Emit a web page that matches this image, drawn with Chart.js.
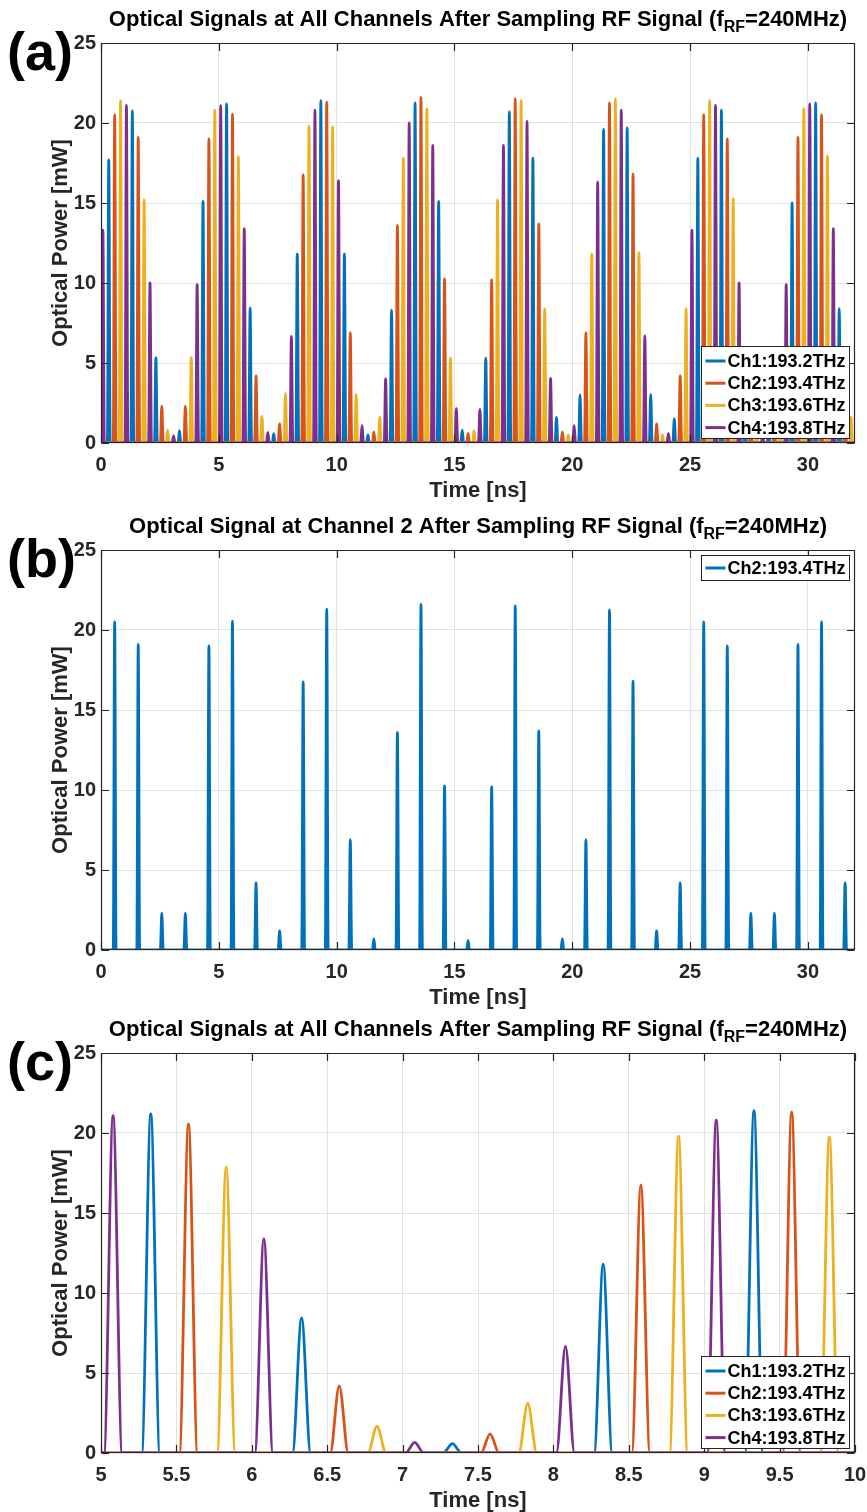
<!DOCTYPE html>
<html><head><meta charset="utf-8">
<script src="https://cdn.jsdelivr.net/npm/chart.js@4.4.1/dist/chart.umd.min.js"></script>
<style>
html,body{margin:0;padding:0;background:#fff;width:867px;height:1512px;overflow:hidden}
.panel{position:absolute;left:0;width:867px}
canvas{display:block}
</style></head><body>
<div class="panel" style="top:0px"><canvas id="ca" width="867" height="505"></canvas></div>
<div class="panel" style="top:505px"><canvas id="cb" width="867" height="505"></canvas></div>
<div class="panel" style="top:1010px"><canvas id="cc" width="867" height="502"></canvas></div>
<script>
// ---- data (pulse centre times in ns, peak optical power in mW) ----
const ch1Times=[0.33,1.33,2.33,3.33,4.33,5.33,6.33,7.33,8.33,9.33,10.33,11.33,12.33,13.33,14.33,15.33,16.33,17.33,18.33,19.33,20.33,21.33,22.33,23.33,24.33,25.33,26.33,27.33,28.33,29.33,30.33,31.33];
const ch2Times=[0.58,1.58,2.58,3.58,4.58,5.58,6.58,7.58,8.58,9.58,10.58,11.58,12.58,13.58,14.58,15.58,16.58,17.58,18.58,19.58,20.58,21.58,22.58,23.58,24.58,25.58,26.58,27.58,28.58,29.58,30.58,31.58];
const ch3Times=[0.83,1.83,2.83,3.83,4.83,5.83,6.83,7.83,8.83,9.83,10.83,11.83,12.83,13.83,14.83,15.83,16.83,17.83,18.83,19.83,20.83,21.83,22.83,23.83,24.83,25.83,26.83,27.83,28.83,29.83,30.83,31.83];
const ch4Times=[0.08,1.08,2.08,3.08,4.08,5.08,6.08,7.08,8.08,9.08,10.08,11.08,12.08,13.08,14.08,15.08,16.08,17.08,18.08,19.08,20.08,21.08,22.08,23.08,24.08,25.08,26.08,27.08,28.08,29.08,30.08,31.08];

const ch1Power=[17.7,20.75,5.34,0.77,15.1,21.2,8.45,0.58,11.8,21.4,11.8,0.5,8.3,21.25,15.1,0.8,5.3,20.7,17.8,1.6,3.0,19.6,19.7,3.04,1.5,17.8,20.8,5.3,0.8,15.0,21.25,8.4];
const ch2Power=[20.5,19.1,2.3,2.3,19.0,20.56,4.2,1.2,16.75,21.3,6.9,0.7,13.6,21.6,10.25,0.6,10.2,21.5,13.7,0.7,6.9,21.25,16.8,1.2,4.2,20.5,19.0,2.3,2.3,19.1,20.5,4.2];
const ch3Power=[21.4,15.2,0.8,5.34,20.8,17.9,1.67,3.1,19.8,19.75,3.04,1.6,17.8,20.9,5.3,0.77,15.2,21.4,8.4,0.5,11.8,21.5,11.9,0.5,8.4,21.4,15.25,0.8,5.3,20.9,17.95,1.6];
const ch4Power=[13.3,21.1,10.0,0.44,9.9,21.08,13.4,0.67,6.67,20.8,16.4,1.1,4.0,20.0,18.6,2.16,2.1,18.6,20.1,4.04,1.1,16.3,20.8,6.7,0.6,13.3,21.1,10.0,0.45,9.9,21.2,13.4];

const channelNames=['Ch1:193.2THz','Ch2:193.4THz','Ch3:193.6THz','Ch4:193.8THz'];
const xTicksFull=[0,5,10,15,20,25,30];
const xTicksZoom=[5,5.5,6,6.5,7,7.5,8,8.5,9,9.5,10];
const yTicks=[0,5,10,15,20,25];
const titleAll=['Optical Signals at All Channels After Sampling RF Signal (f','RF','=240MHz)'];
const titleCh2=['Optical Signal at Channel 2 After Sampling RF Signal (f','RF','=240MHz)'];
const xLabel='Time [ns]';
const yLabel='Optical Power [mW]';

// ---- styling ----
const COLORS=['#0072BD','#D95319','#EDB120','#7E2F8E'];
const FONT='"Liberation Sans", Arial, Helvetica, sans-serif';
const PULSE_HALF=0.06; // half base width of each optical pulse (ns)

function pulseTrain(times, peaks){
  const pts=[{x:-1,y:0}];
  times.forEach((t,i)=>{
    pts.push({x:t-PULSE_HALF,y:0});
    pts.push({x:t,y:peaks[i]});
    pts.push({x:t+PULSE_HALF,y:0});
  });
  pts.push({x:40,y:0});
  return pts;
}

function ds(label, times, peaks, color, order){
  return {label, data:pulseTrain(times,peaks), borderColor:color, backgroundColor:color,
    borderWidth:2.8, pointRadius:0, cubicInterpolationMode:'monotone', fill:false, order};
}

const matlabPlugin={
  id:'matlab',
  afterDraw(chart, args, o){
    const ctx=chart.ctx; const a=chart.chartArea;
    const L=Math.round(a.left)+0.5, R=Math.round(a.right)-0.5, T=Math.round(a.top)+0.5, B=Math.round(a.bottom)-0.5;
    const xs=chart.scales.x, ys=chart.scales.y;
    ctx.save();
    // frame
    ctx.strokeStyle='#262626'; ctx.lineWidth=1.2;
    ctx.beginPath(); ctx.rect(L,T,R-L,B-T); ctx.stroke();
    // inward ticks
    ctx.beginPath();
    o.xTicks.forEach(v=>{const p=Math.round(xs.getPixelForValue(v))+0.5; ctx.moveTo(p,B); ctx.lineTo(p,B-7.5); ctx.moveTo(p,T); ctx.lineTo(p,T+7.5);});
    yTicks.forEach(v=>{const p=Math.round(ys.getPixelForValue(v))+0.5; ctx.moveTo(L,p); ctx.lineTo(L+7.5,p); ctx.moveTo(R,p); ctx.lineTo(R-7.5,p);});
    ctx.stroke();
    // title with subscript
    const cx=(a.left+a.right)/2;
    ctx.fillStyle='#000'; ctx.textBaseline='alphabetic'; ctx.textAlign='left';
    const big='bold 22px '+FONT, small='bold 16px '+FONT;
    ctx.font=big; const w1=ctx.measureText(o.title[0]).width, w3=ctx.measureText(o.title[2]).width;
    ctx.font=small; const w2=ctx.measureText(o.title[1]).width;
    let x0=cx-(w1+w2+w3)/2; const by=a.top-17;
    ctx.font=big; ctx.fillText(o.title[0],x0,by);
    ctx.font=small; ctx.fillText(o.title[1],x0+w1,by+6);
    ctx.font=big; ctx.fillText(o.title[2],x0+w1+w2,by);
    // axis labels
    ctx.textAlign='center'; ctx.textBaseline='middle'; ctx.fillStyle='#262626';
    ctx.font='bold 22px '+FONT;
    ctx.fillText(xLabel,cx,a.bottom+48);
    ctx.save(); ctx.translate(61,(a.top+a.bottom)/2); ctx.rotate(-Math.PI/2); ctx.fillText(yLabel,0,0); ctx.restore();
    // panel letter
    ctx.textAlign='left'; ctx.textBaseline='alphabetic'; ctx.fillStyle='#000';
    ctx.font='bold 54px '+FONT; ctx.fillText(o.letter,7,a.top+27);
    // legend
    const n=o.legend.length, rowH=22.2;
    const bw=148, bh=n===1?25:92;
    const bx=Math.round(a.right)-153.5;
    const bybox=o.legendTop? Math.round(a.top)+5.5 : Math.round(a.bottom)-4.5-bh;
    ctx.fillStyle='#fff'; ctx.fillRect(bx,bybox,bw,bh);
    ctx.strokeStyle='#262626'; ctx.lineWidth=1; ctx.strokeRect(bx,bybox,bw,bh);
    ctx.font='bold 18px '+FONT; ctx.textBaseline='middle';
    o.legend.forEach((it,i)=>{
      const cy=bybox+(n===1?12.5:14.5+rowH*i);
      ctx.strokeStyle=it.color; ctx.lineWidth=3;
      ctx.beginPath(); ctx.moveTo(bx+4,cy); ctx.lineTo(bx+24,cy); ctx.stroke();
      ctx.fillStyle='#000'; ctx.fillText(it.label,bx+26,cy+1);
    });
    ctx.restore();
  }
};

function makeChart(id, datasets, xmin, xmax, xTicks, opts){
  const canvas=document.getElementById(id);
  const H=canvas.height;
  return new Chart(canvas,{
    type:'line',
    data:{datasets},
    plugins:[matlabPlugin],
    options:{
      responsive:false, animation:false, devicePixelRatio:1, events:[],
      layout:{autoPadding:false,padding:{top:opts.top,right:12,bottom:0,left:0}},
      plugins:{legend:{display:false},tooltip:{enabled:false},title:{display:false},
        matlab:Object.assign({xTicks},opts)},
      scales:{
        x:{type:'linear',min:xmin,max:xmax,
          afterBuildTicks:s=>{s.ticks=xTicks.map(v=>({value:v}));},
          afterFit:s=>{s.height=H-opts.top-400; s.paddingLeft=0; s.paddingRight=0;},
          grid:{color:'#e2e2e2',lineWidth:1,drawTicks:false},
          border:{display:false},
          ticks:{autoSkip:false,maxRotation:0,padding:10,color:'#262626',callback:v=>String(v),
            font:{family:FONT,size:20,weight:'bold'}}},
        y:{type:'linear',min:0,max:25,
          afterBuildTicks:s=>{s.ticks=yTicks.map(v=>({value:v}));},
          afterFit:s=>{s.width=101; s.paddingTop=0; s.paddingBottom=0;},
          grid:{color:'#e2e2e2',lineWidth:1,drawTicks:false},
          border:{display:false},
          ticks:{padding:5,color:'#262626',callback:v=>String(v),font:{family:FONT,size:20,weight:'bold'}}}
      }
    }
  });
}

const allSets=()=>[
  ds(channelNames[0],ch1Times,ch1Power,COLORS[0],4),
  ds(channelNames[1],ch2Times,ch2Power,COLORS[1],3),
  ds(channelNames[2],ch3Times,ch3Power,COLORS[2],2),
  ds(channelNames[3],ch4Times,ch4Power,COLORS[3],1)
];
const legendAll=channelNames.map((l,i)=>({label:l,color:COLORS[i]}));

makeChart('ca',allSets(),0,32,xTicksFull,{top:43,title:titleAll,letter:'(a)',legend:legendAll,legendTop:false});
makeChart('cb',[ds(channelNames[1],ch2Times,ch2Power,COLORS[0],1)],0,32,xTicksFull,{top:45,title:titleCh2,letter:'(b)',legend:[{label:channelNames[1],color:COLORS[0]}],legendTop:true});
makeChart('cc',allSets(),5,10,xTicksZoom,{top:43,title:titleAll,letter:'(c)',legend:legendAll,legendTop:false});
</script>
</body></html>
